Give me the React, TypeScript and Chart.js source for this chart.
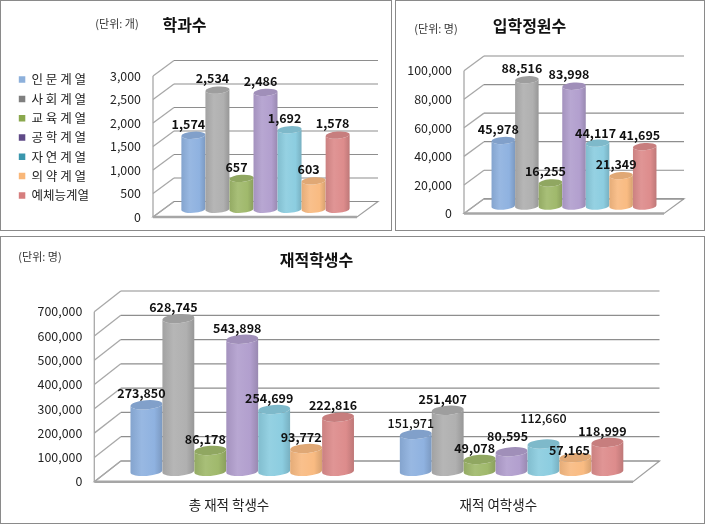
import React, { useEffect, useRef } from "react";
import { Chart, registerables } from "chart.js";

Chart.register(...registerables);

const FONT = '"Noto Sans CJK KR", "Noto Sans", sans-serif';

const seriesNames = ["인 문 계 열", "사 회 계 열", "교 육 계 열", "공 학 계 열", "자 연 계 열", "의 약 계 열", "예체능계열"];
const barColors = ["#8fb2e0", "#b0b0b0", "#a0b96c", "#b29fce", "#8ccde0", "#f9bb82", "#dd8c8c"];
const legendColors = ["#8db0db", "#7f7f7f", "#8aa84d", "#5f4a87", "#3a96ad", "#f9b779", "#d67e7e"];

const departmentCounts = [1574, 2534, 657, 2486, 1692, 603, 1578];
const admissionQuotas = [45978, 88516, 16255, 83998, 44117, 21349, 41695];
const totalEnrolled = [273850, 628745, 86178, 543898, 254699, 93772, 222816];
const femaleEnrolled = [151971, 251407, 49078, 80595, 112660, 57165, 118999];
const enrolledCategories = ["총 재적 학생수", "재적 여학생수"];

// hand-moved labels in the reference: value -> extra label shift
const labelNudges: Record<number, [number, number]> = {
  112660: [5, -14],
  80595: [1, -4],
  57165: [-1, 4],
  44117: [3, 2],
};
const lighterLabels = [151971, 112660];

function shade(hex: string, f: number) {
  const n = parseInt(hex.slice(1), 16);
  const ch = [(n >> 16) & 255, (n >> 8) & 255, n & 255].map((c) =>
    Math.round(f < 0 ? c * (1 + f) : c + (255 - c) * f)
  );
  return `rgb(${ch[0]},${ch[1]},${ch[2]})`;
}

function drawCylinder(ctx: CanvasRenderingContext2D, x: number, top: number, base: number, w: number, ry: number, color: string) {
  const rx = w / 2;
  const tilt = -0.07;
  const g = ctx.createLinearGradient(x - rx, 0, x + rx, 0);
  g.addColorStop(0, shade(color, -0.08));
  g.addColorStop(0.35, shade(color, 0.08));
  g.addColorStop(0.75, color);
  g.addColorStop(1, shade(color, -0.14));
  ctx.beginPath();
  ctx.ellipse(x, top, rx, ry, tilt, Math.PI, 0, true);
  ctx.ellipse(x, base, rx, ry, tilt, 0, Math.PI, false);
  ctx.closePath();
  ctx.fillStyle = g;
  ctx.fill();
  ctx.beginPath();
  ctx.ellipse(x, top, rx, ry, tilt, 0, Math.PI * 2);
  ctx.fillStyle = shade(color, -0.1);
  ctx.fill();
}

const scene3d = {
  id: "scene3d",
  afterLayout(chart: any, _a: any, opts: any) {
    if (chart.legend && opts.legendShift) {
      chart.legend.top += opts.legendShift;
      chart.legend.bottom += opts.legendShift;
    }
  },
  beforeDatasetsDraw(chart: any, _a: any, opts: any) {
    const { ctx, chartArea: ca } = chart;
    const { dx, dy, ry } = opts;
    const y = chart.scales.y;
    const { left: L, right: R, bottom: B } = ca;
    ctx.save();
    // floor
    ctx.beginPath();
    ctx.moveTo(L, B);
    ctx.lineTo(R, B);
    ctx.lineTo(R + dx, B + dy);
    ctx.lineTo(L + dx, B + dy);
    ctx.closePath();
    ctx.strokeStyle = "#a0a0a0";
    ctx.lineWidth = 1.2;
    ctx.stroke();
    // grid on back and side walls
    y.ticks.forEach((t: any) => {
      const py = y.getPixelForValue(t.value);
      ctx.beginPath();
      ctx.moveTo(L, py);
      ctx.lineTo(L + dx, py + dy);
      ctx.strokeStyle = "#a8a8a8";
      ctx.lineWidth = 1.3;
      ctx.stroke();
      ctx.beginPath();
      ctx.moveTo(L + dx, py + dy);
      ctx.lineTo(R + dx, py + dy);
      ctx.strokeStyle = "#8e8e8e";
      ctx.lineWidth = 1.2;
      ctx.stroke();
    });
    ctx.beginPath();
    ctx.moveTo(L, ca.top);
    ctx.lineTo(L, B);
    ctx.strokeStyle = "#a8a8a8";
    ctx.lineWidth = 1.3;
    ctx.stroke();
    // front edge of the floor
    ctx.beginPath();
    ctx.moveTo(L, B);
    ctx.lineTo(R, B);
    ctx.strokeStyle = "#a6a6a6";
    ctx.lineWidth = 2.4;
    ctx.stroke();

    // cylinders
    const items: any[] = [];
    chart.data.datasets.forEach((ds: any, i: number) => {
      chart.getDatasetMeta(i).data.forEach((el: any, j: number) => {
        items.push({ el, color: ds.backgroundColor, value: ds.data[j] });
        drawCylinder(ctx, el.x + dx / 2, el.y + dy / 2, el.base + dy / 2, el.width, ry, ds.backgroundColor);
      });
    });
    // value labels
    ctx.fillStyle = "#111";
    ctx.textAlign = "center";
    ctx.textBaseline = "middle";
    items.forEach(({ el, value }) => {
      const [nx, ny] = labelNudges[value] || [0, 0];
      ctx.font = `${lighterLabels.includes(value) ? "500" : "bold"} 12.5px ${FONT}`;
      ctx.fillText(value.toLocaleString("en-US"), el.x + dx / 2 - 5 + nx, el.y + dy / 2 - 11.5 + ny);
    });
    // unit note
    ctx.fillStyle = "#333";
    ctx.font = `11px ${FONT}`;
    ctx.fillText(opts.unit, opts.unitX, opts.unitY);
    ctx.restore();
    return false;
  },
};

type PanelProps = {
  frame: [number, number, number, number];
  title: string;
  titleY: number;
  unit: string;
  unitX: number;
  unitY: number;
  categories: string[];
  rows: number[][];
  max: number;
  step: number;
  area: { left: number; right: number; top: number; bottom: number };
  dx: number;
  dy: number;
  ry: number;
  legend?: boolean;
  catPct: number;
};

function Panel(p: PanelProps) {
  const ref = useRef<HTMLCanvasElement>(null);
  useEffect(() => {
    const [, , w, h] = p.frame;
    const padLeft = p.legend ? 12 : 0;
    const titleH = 16 * 1.2;
    const titleTop = p.titleY - titleH / 2;
    const hasX = p.categories.length > 1;
    const chart = new Chart(ref.current as HTMLCanvasElement, {
      type: "bar",
      data: {
        labels: p.categories,
        datasets: seriesNames.map((name, i) => ({
          label: name,
          data: p.rows.map((r) => r[i]),
          backgroundColor: barColors[i],
          categoryPercentage: p.catPct,
          barPercentage: 1,
        })),
      },
      plugins: [scene3d],
      options: {
        responsive: false,
        animation: false,
        layout: {
          autoPadding: false,
          padding: { left: padLeft, right: w - p.area.right, top: 0, bottom: hasX ? 0 : h - p.area.bottom },
        },
        scales: {
          x: {
            display: hasX,
            grid: { display: false, drawTicks: false },
            border: { display: false },
            ticks: { color: "#222", font: { size: 13.5, family: FONT }, padding: 15, maxRotation: 0 },
            afterFit: (s: any) => {
              if (hasX) s.height = h - p.area.bottom;
            },
          },
          y: {
            min: 0,
            max: p.max,
            grid: { display: false, drawTicks: false },
            border: { display: false },
            ticks: { stepSize: p.step, color: "#222", font: { size: 12.4, family: FONT }, padding: 12 },
            afterFit: (s: any) => {
              s.width = p.area.left - padLeft - (p.legend ? s.chart.legend.width : 0);
              s.paddingTop = 0;
              s.paddingBottom = 0;
            },
          },
        },
        plugins: {
          tooltip: { enabled: false },
          title: {
            display: true,
            text: p.title,
            color: "#111",
            font: { size: 16, weight: "bold", family: FONT },
            padding: { top: titleTop, bottom: p.area.top - titleTop - titleH },
          },
          legend: {
            display: !!p.legend,
            position: "left",
            labels: {
              boxWidth: 6.5,
              boxHeight: 6.5,
              padding: 6.8,
              color: "#222",
              font: { size: 12.5, family: FONT },
              generateLabels: (c: any) =>
                c.data.datasets.map((d: any, i: number) => ({
                  text: d.label,
                  fillStyle: legendColors[i],
                  strokeStyle: "transparent",
                  lineWidth: 0,
                  fontColor: "#222",
                  datasetIndex: i,
                })),
            },
          },
          scene3d: {
            dx: p.dx,
            dy: p.dy,
            ry: p.ry,
            unit: p.unit,
            unitX: p.unitX,
            unitY: p.unitY,
            legendShift: p.legend ? 29 : 0,
          },
        },
      } as any,
    } as any);
    return () => chart.destroy();
  }, []);
  const [x, y, w, h] = p.frame;
  return (
    <div style={{ position: "absolute", left: x, top: y, width: w, height: h }}>
      <canvas ref={ref} width={w} height={h} style={{ display: "block", width: w, height: h }} />
      <div
        style={{
          position: "absolute",
          inset: 0,
          boxSizing: "border-box",
          border: "1.5px solid #8a8a8a",
          pointerEvents: "none",
        }}
      />
    </div>
  );
}

export default function App() {
  return (
    <div style={{ position: "absolute", left: 0, top: 0, width: 705, height: 524, background: "#fff" }}>
      <Panel
        frame={[0, 0, 392, 231]}
        title="학과수"
        titleY={24.5}
        unit="(단위: 개)"
        unitX={117}
        unitY={24}
        categories={["학과수"]}
        rows={[departmentCounts]}
        max={3000}
        step={500}
        area={{ left: 153, right: 357, top: 76, bottom: 217 }}
        dx={21}
        dy={-15.5}
        ry={3.6}
        legend
        catPct={0.825}
      />
      <Panel
        frame={[395, 0, 310, 231]}
        title="입학정원수"
        titleY={26}
        unit="(단위: 명)"
        unitX={41}
        unitY={29}
        categories={["입학정원수"]}
        rows={[admissionQuotas]}
        max={100000}
        step={20000}
        area={{ left: 69, right: 269, top: 70.7, bottom: 213.5 }}
        dx={20}
        dy={-14.7}
        ry={3.6}
        catPct={0.825}
      />
      <Panel
        frame={[0, 236, 705, 288]}
        title="재적학생수"
        titleY={24}
        unit="(단위: 명)"
        unitX={40}
        unitY={21}
        categories={enrolledCategories}
        rows={[totalEnrolled, femaleEnrolled]}
        max={700000}
        step={100000}
        area={{ left: 94.3, right: 633, top: 75.7, bottom: 245.7 }}
        dx={26.5}
        dy={-20.7}
        ry={4.6}
        catPct={0.83}
      />
    </div>
  );
}
